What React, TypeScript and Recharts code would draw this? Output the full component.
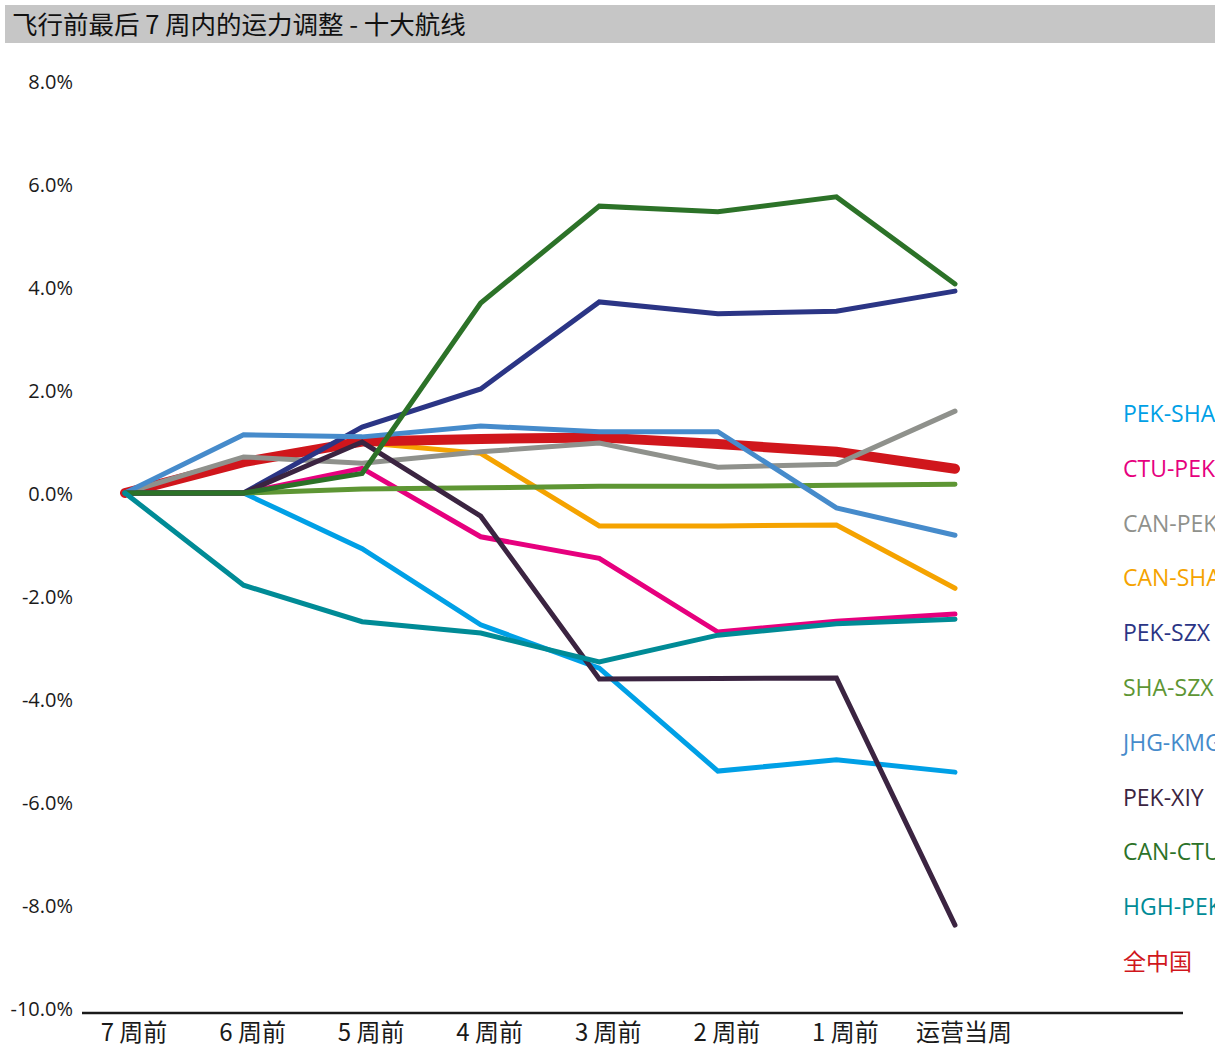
import { LineChart, Line, XAxis, YAxis, Legend } from "recharts";

const WEEKS = ["7 周前", "6 周前", "5 周前", "4 周前", "3 周前", "2 周前", "1 周前", "运营当周"];
const Y_TICKS = [-10, -8, -6, -4, -2, 0, 2, 4, 6, 8];

// capacity change (%) per route
const PEK_SHA = [0, 0, -1.08, -2.56, -3.4, -5.4, -5.18, -5.42];
const CTU_PEK = [0, 0, 0.48, -0.85, -1.27, -2.7, -2.49, -2.35];
const CAN_PEK = [0, 0.7, 0.58, 0.8, 0.97, 0.5, 0.56, 1.59];
const CAN_SHA = [0, 0.6, 0.98, 0.77, -0.64, -0.64, -0.62, -1.85];
const PEK_SZX = [0, 0, 1.28, 2.02, 3.71, 3.48, 3.53, 3.92];
const SHA_SZX = [0, 0, 0.08, 0.1, 0.13, 0.13, 0.15, 0.17];
const JHG_KMG = [0, 1.13, 1.09, 1.3, 1.19, 1.19, -0.29, -0.82];
const PEK_XIY = [0, 0, 0.99, -0.45, -3.61, -3.6, -3.59, -8.39];
const CAN_CTU = [0, 0, 0.38, 3.69, 5.57, 5.46, 5.75, 4.06];
const HGH_PEK = [0, -1.79, -2.5, -2.72, -3.28, -2.76, -2.54, -2.45];
const ALL_CHINA = [0, 0.6, 1.0, 1.05, 1.08, 0.95, 0.8, 0.47];

const SERIES = [
  { key: "PEK-SHA", values: PEK_SHA, color: "#00A0E6", width: 5 },
  { key: "CTU-PEK", values: CTU_PEK, color: "#E6007E", width: 5 },
  { key: "CAN-PEK", values: CAN_PEK, color: "#8F918C", width: 5 },
  { key: "CAN-SHA", values: CAN_SHA, color: "#F5A300", width: 5 },
  { key: "PEK-SZX", values: PEK_SZX, color: "#2B3585", width: 5 },
  { key: "SHA-SZX", values: SHA_SZX, color: "#5E9634", width: 5 },
  { key: "JHG-KMG", values: JHG_KMG, color: "#468BCB", width: 5 },
  { key: "PEK-XIY", values: PEK_XIY, color: "#3B2441", width: 5 },
  { key: "CAN-CTU", values: CAN_CTU, color: "#2C7228", width: 5 },
  { key: "HGH-PEK", values: HGH_PEK, color: "#008B96", width: 5 },
  { key: "全中国", values: ALL_CHINA, color: "#D0161C", width: 10 },
];

const data = WEEKS.map((week, i) => {
  const row: Record<string, string | number> = { week };
  SERIES.forEach((s) => {
    row[s.key] = s.values[i];
  });
  return row;
});

// orange hides under the red national line early on, the rest sit on top
const DRAW_ORDER = [
  SERIES[3],
  SERIES[10],
  ...SERIES.filter((_, i) => i !== 3 && i !== 10),
];

const XTick = (props: any) => {
  const { x, y, payload } = props;
  return (
    <text
      x={x + 9}
      y={y + 9}
      textAnchor="middle"
      dominantBaseline="central"
      fontFamily="'Noto Sans CJK SC', sans-serif"
      fontSize={24}
      fill="#1a1a1a"
    >
      {payload.value}
    </text>
  );
};

const YTick = (props: any) => {
  const { x, y, payload } = props;
  return (
    <text
      x={x - 1}
      y={y}
      textAnchor="end"
      dominantBaseline="central"
      fontFamily="'Open Sans', sans-serif"
      fontSize={20}
      fill="#1a1a1a"
    >
      {`${payload.value.toFixed(1)}%`}
    </text>
  );
};

const LegendList = () => (
  <div style={{ fontFamily: "'Open Sans', 'Noto Sans CJK SC', sans-serif", fontSize: 23 }}>
    {SERIES.map((s) => (
      <div key={s.key} style={{ color: s.color, height: 54.8, lineHeight: "54.8px", whiteSpace: "nowrap" }}>
        {s.key}
      </div>
    ))}
  </div>
);

export default function App() {
  return (
    <div
      style={{
        position: "absolute",
        left: 0,
        top: 0,
        width: 1215,
        height: 1049,
        overflow: "hidden",
        background: "#fff",
      }}
    >
      <LineChart
        width={1215}
        height={1049}
        data={data}
        margin={{ top: 81, right: 32, bottom: 0, left: 0 }}
      >
        <XAxis
          dataKey="week"
          height={36}
          padding={{ left: 43, right: 228 }}
          axisLine={{ stroke: "#1a1a1a", strokeWidth: 2.5 }}
          tickLine={false}
          tick={<XTick />}
          interval={0}
        />
        <YAxis
          width={82}
          domain={[-10.097, 8]}
          ticks={Y_TICKS}
          axisLine={false}
          tickLine={false}
          tick={<YTick />}
          interval={0}
        />
        <Legend
          layout="vertical"
          align="center"
          verticalAlign="middle"
          wrapperStyle={{ left: 1123, top: 386, width: 200 }}
          content={<LegendList />}
        />
        {DRAW_ORDER.map((s) => (
          <Line
            key={s.key}
            type="linear"
            dataKey={s.key}
            stroke={s.color}
            strokeWidth={s.width}
            strokeLinecap="round"
            dot={false}
            activeDot={false}
            isAnimationActive={false}
          />
        ))}
      </LineChart>
      <div
        style={{
          position: "absolute",
          left: 5,
          top: 5,
          right: 0,
          height: 38,
          background: "#C6C6C6",
          fontFamily: "'Noto Sans CJK SC', sans-serif",
          fontSize: 25.5,
          lineHeight: "36px",
          paddingLeft: 7,
          color: "#111",
          whiteSpace: "nowrap",
        }}
      >
        飞行前最后 7 周内的运力调整 - 十大航线
      </div>
    </div>
  );
}
